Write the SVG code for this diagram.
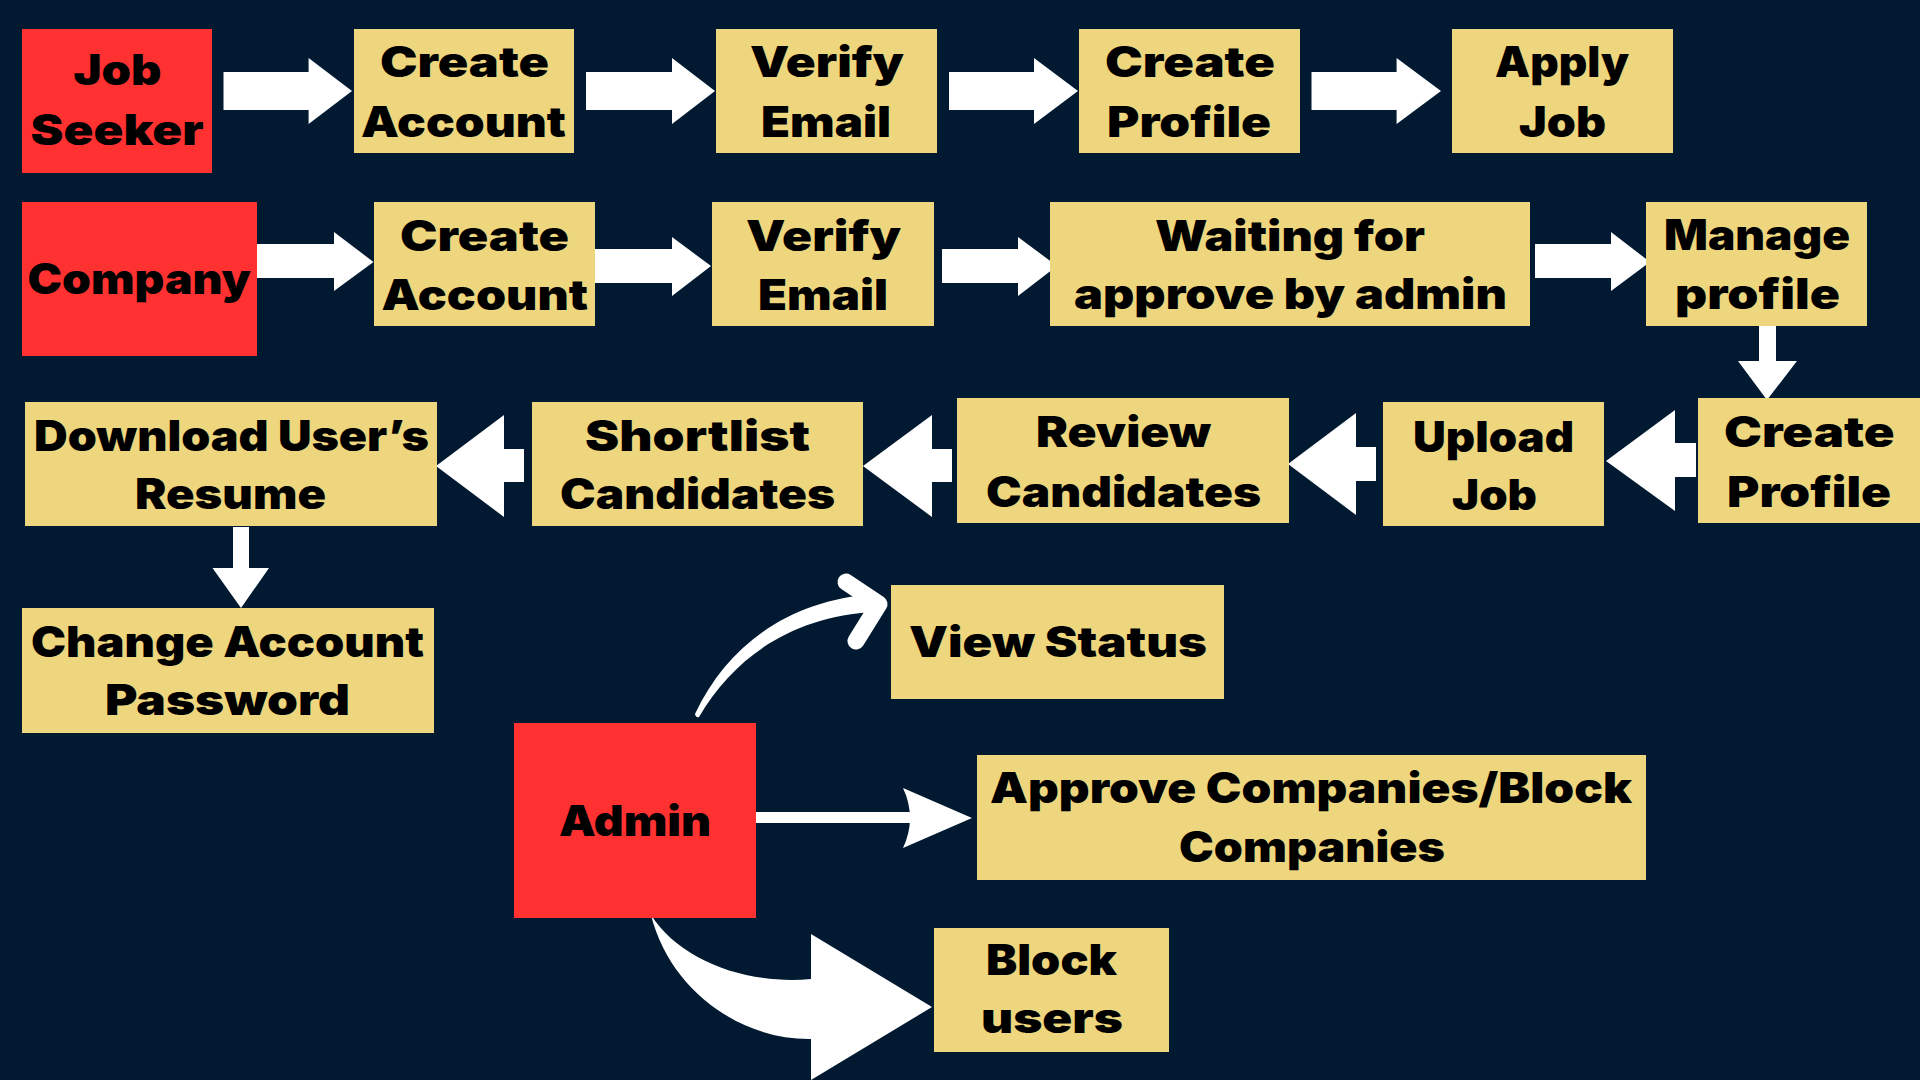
<svg xmlns="http://www.w3.org/2000/svg" width="1920" height="1080" viewBox="0 0 1920 1080">
<style>
.bg{fill:#011A32}
.actor{fill:#FF3131}
.step{fill:#EDD67D}
.t{font-family:"Inter","Lato","Roboto","Liberation Sans",sans-serif;font-weight:900;font-size:42px;fill:#000}
.arr{fill:#FFFFFF}
</style>
<rect class="bg" x="0" y="0" width="1920" height="1080"/>

<g id="connectors">
  <path class="arr" d="M223.5,72 H308.6 V58 L352,91 L308.6,124 V110 H223.5 Z"/>
  <path class="arr" d="M586,72 H672 V58 L715,91 L672,124 V110 H586 Z"/>
  <path class="arr" d="M949,72 H1034 V58 L1078,91 L1034,124 V110 H949 Z"/>
  <path class="arr" d="M1311.5,72 H1396.6 V58 L1441,91 L1396.6,124 V110 H1311.5 Z"/>
  <path class="arr" d="M257,244 H334 V232 L373.5,262 L334,291 V278 H257 Z"/>
  <path class="arr" d="M595,249 H672 V237 L711,266 L672,296 V283 H595 Z"/>
  <path class="arr" d="M942,249 H1018 V237 L1057,266 L1018,296 V283 H942 Z"/>
  <path class="arr" d="M1535,244 H1611 V232 L1650,262 L1611,291 V278 H1535 Z"/>
  <path class="arr" d="M1759,319 V361 H1738 L1767,400 L1797,361 H1776 V319 Z"/>
  <path class="arr" d="M1696,443 H1675 V410 L1606,461 L1675,511 V477 H1696 Z"/>
  <path class="arr" d="M1376,447 H1356 V413 L1288,464 L1356,515 V481 H1376 Z"/>
  <path class="arr" d="M952,449 H932 V415 L863,466 L932,517 V482 H952 Z"/>
  <path class="arr" d="M524,449 H504 V415 L436,466 L504,517 V482 H524 Z"/>
  <path class="arr" d="M233,527 V568 H212.5 L241,608 L269,568 H249 V527 Z"/>
  <rect class="arr" x="756" y="812" width="154" height="11"/>
  <path class="arr" d="M903,788 L972,818 L903,848 Q917,818 903,788 Z"/>
  <path class="arr" d="M695,714 C727,646 788,600 875,594 L875,612 C795,616 735,655 699,717 Q696,718 695,714 Z"/>
  <polyline points="846,582 879,604 856,641" fill="none" stroke="#FFFFFF" stroke-width="17" stroke-linecap="round" stroke-linejoin="round"/>
  <path class="arr" d="M651,915 C680,960 745,985 811,979 L811,934 L932,1007 L811,1080 L811,1039 C740,1040 670,990 651,915 Z"/>
</g>

<g id="job-seeker">
  <rect class="actor" x="22" y="29" width="190" height="144"/>
  <text class="t" x="73.5" y="85" textLength="88" lengthAdjust="spacingAndGlyphs">Job</text>
  <text class="t" x="30.6" y="145" textLength="173" lengthAdjust="spacingAndGlyphs">Seeker</text>
</g>
<g id="js-create-account">
  <rect class="step" x="354" y="29" width="220" height="124"/>
  <text class="t" x="380" y="77" textLength="169" lengthAdjust="spacingAndGlyphs">Create</text>
  <text class="t" x="361" y="137" textLength="205" lengthAdjust="spacingAndGlyphs">Account</text>
</g>
<g id="js-verify-email">
  <rect class="step" x="716" y="29" width="221" height="124"/>
  <text class="t" x="750" y="77" textLength="154" lengthAdjust="spacingAndGlyphs">Verify</text>
  <text class="t" x="761" y="137" textLength="130" lengthAdjust="spacingAndGlyphs">Email</text>
</g>
<g id="js-create-profile">
  <rect class="step" x="1079" y="29" width="221" height="124"/>
  <text class="t" x="1105" y="77" textLength="170" lengthAdjust="spacingAndGlyphs">Create</text>
  <text class="t" x="1107" y="137" textLength="164" lengthAdjust="spacingAndGlyphs">Profile</text>
</g>
<g id="js-apply-job">
  <rect class="step" x="1452" y="29" width="221" height="124"/>
  <text class="t" x="1495" y="77" textLength="134" lengthAdjust="spacingAndGlyphs">Apply</text>
  <text class="t" x="1519" y="137" textLength="87" lengthAdjust="spacingAndGlyphs">Job</text>
</g>

<g id="company">
  <rect class="actor" x="22" y="202" width="235" height="154"/>
  <text class="t" x="27.5" y="294" textLength="223.5" lengthAdjust="spacingAndGlyphs">Company</text>
</g>
<g id="co-create-account">
  <rect class="step" x="374" y="202" width="221" height="124"/>
  <text class="t" x="400" y="251" textLength="169" lengthAdjust="spacingAndGlyphs">Create</text>
  <text class="t" x="381.5" y="310" textLength="206.5" lengthAdjust="spacingAndGlyphs">Account</text>
</g>
<g id="co-verify-email">
  <rect class="step" x="712" y="202" width="222" height="124"/>
  <text class="t" x="746" y="251" textLength="155" lengthAdjust="spacingAndGlyphs">Verify</text>
  <text class="t" x="758" y="310" textLength="130" lengthAdjust="spacingAndGlyphs">Email</text>
</g>
<g id="co-waiting">
  <rect class="step" x="1050" y="202" width="480" height="124"/>
  <text class="t" x="1155" y="251" textLength="270" lengthAdjust="spacingAndGlyphs">Waiting for</text>
  <text class="t" x="1074" y="309" textLength="433" lengthAdjust="spacingAndGlyphs">approve by admin</text>
</g>
<g id="co-manage-profile">
  <rect class="step" x="1646" y="202" width="221" height="124"/>
  <text class="t" x="1664" y="250" textLength="186" lengthAdjust="spacingAndGlyphs">Manage</text>
  <text class="t" x="1675" y="309" textLength="165" lengthAdjust="spacingAndGlyphs">profile</text>
</g>
<g id="co-create-profile">
  <rect class="step" x="1698" y="398" width="230" height="125"/>
  <text class="t" x="1724" y="446.7" textLength="170.5" lengthAdjust="spacingAndGlyphs">Create</text>
  <text class="t" x="1727" y="506.7" textLength="164" lengthAdjust="spacingAndGlyphs">Profile</text>
</g>
<g id="co-upload-job">
  <rect class="step" x="1383" y="402" width="221" height="124"/>
  <text class="t" x="1413" y="451.7" textLength="161" lengthAdjust="spacingAndGlyphs">Upload</text>
  <text class="t" x="1452" y="510" textLength="85" lengthAdjust="spacingAndGlyphs">Job</text>
</g>
<g id="co-review">
  <rect class="step" x="957" y="398" width="332" height="125"/>
  <text class="t" x="1036" y="446.7" textLength="175" lengthAdjust="spacingAndGlyphs">Review</text>
  <text class="t" x="986" y="506.7" textLength="275" lengthAdjust="spacingAndGlyphs">Candidates</text>
</g>
<g id="co-shortlist">
  <rect class="step" x="532" y="402" width="331" height="124"/>
  <text class="t" x="585" y="450.7" textLength="225" lengthAdjust="spacingAndGlyphs">Shortlist</text>
  <text class="t" x="560" y="509" textLength="275" lengthAdjust="spacingAndGlyphs">Candidates</text>
</g>
<g id="co-download">
  <rect class="step" x="25" y="402" width="412" height="124"/>
  <text class="t" x="34" y="450.7" textLength="395" lengthAdjust="spacingAndGlyphs">Download User’s</text>
  <text class="t" x="135" y="509" textLength="191" lengthAdjust="spacingAndGlyphs">Resume</text>
</g>
<g id="co-change-password">
  <rect class="step" x="22" y="608" width="412" height="125"/>
  <text class="t" x="31" y="656.7" textLength="393" lengthAdjust="spacingAndGlyphs">Change Account</text>
  <text class="t" x="105" y="715" textLength="245" lengthAdjust="spacingAndGlyphs">Password</text>
</g>

<g id="admin">
  <rect class="actor" x="514" y="723" width="242" height="195"/>
  <text class="t" x="559" y="835.7" textLength="152" lengthAdjust="spacingAndGlyphs">Admin</text>
</g>
<g id="ad-view-status">
  <rect class="step" x="891" y="585" width="333" height="114"/>
  <text class="t" x="909" y="657" textLength="298" lengthAdjust="spacingAndGlyphs">View Status</text>
</g>
<g id="ad-approve">
  <rect class="step" x="977" y="755" width="669" height="125"/>
  <text class="t" x="990" y="803" textLength="642" lengthAdjust="spacingAndGlyphs">Approve Companies/Block</text>
  <text class="t" x="1179" y="861.7" textLength="266" lengthAdjust="spacingAndGlyphs">Companies</text>
</g>
<g id="ad-block-users">
  <rect class="step" x="934" y="928" width="235" height="124"/>
  <text class="t" x="986" y="975" textLength="131" lengthAdjust="spacingAndGlyphs">Block</text>
  <text class="t" x="981" y="1033" textLength="142" lengthAdjust="spacingAndGlyphs">users</text>
</g>
</svg>
